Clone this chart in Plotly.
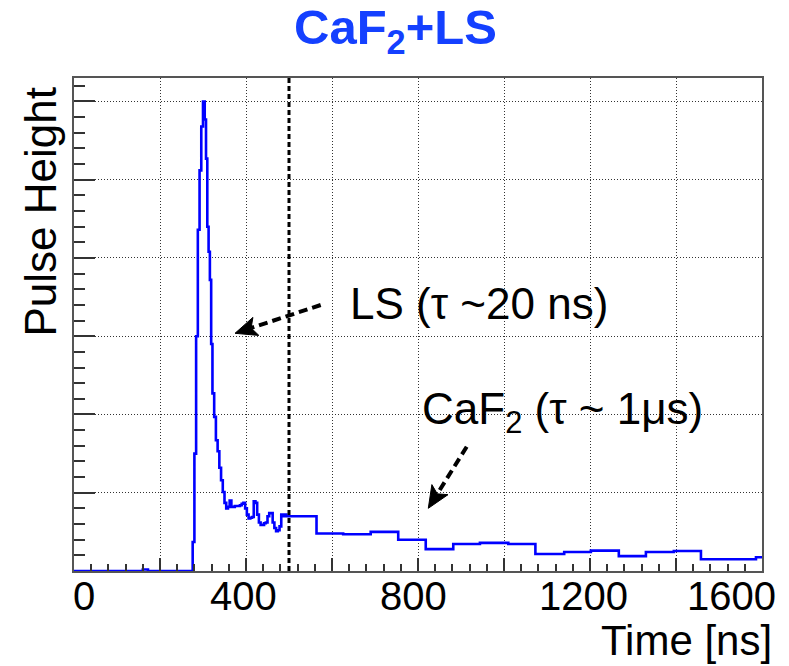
import plotly.graph_objects as go

# Fine-binned leading part of the pulse: bin start times [ns] and heights
fine_t = [0, 160, 172, 276, 280, 284, 288, 292, 296, 300, 304, 307, 310, 313, 316,
          319, 322, 326, 330, 334, 338, 342, 346, 350, 354, 358, 362, 366, 370,
          374, 378, 382, 386, 390, 394, 398, 402, 406, 410, 414, 418, 422, 426,
          430, 434, 438, 442, 446, 450, 454, 458, 462, 466, 470, 474, 478, 482,
          486, 490, 494]
fine_h = [0.0, 0.02, 0.0, 0.37, 1.5, 3.0, 4.36, 5.12, 5.68, 6.0, 5.77, 5.27, 4.40,
          4.08, 3.72, 2.9, 2.27, 1.97, 1.67, 1.53, 1.32, 1.16, 1.01, 0.87, 0.80,
          0.82, 0.90, 0.82, 0.82, 0.83, 0.83, 0.83, 0.84, 0.86, 0.87, 0.80, 0.72,
          0.67, 0.68, 0.69, 0.89, 0.87, 0.72, 0.62, 0.59, 0.59, 0.61, 0.62, 0.70,
          0.74, 0.74, 0.62, 0.55, 0.51, 0.52, 0.57, 0.72, 0.70, 0.72, 0.70]

# Coarse-binned tail: bin edges [ns] and heights
coarse_edges = [500, 564, 626, 690, 754, 818, 882, 944, 1010, 1073, 1140, 1202,
                1267, 1330, 1395, 1458, 1522, 1586, 1600]
coarse_h = [0.70, 0.48, 0.47, 0.50, 0.40, 0.28, 0.345, 0.36, 0.345, 0.217, 0.243,
            0.26, 0.19, 0.243, 0.256, 0.15, 0.15, 0.175]

x_tick_vals = [0, 400, 800, 1200, 1600]
x_tick_text = ["0", "400", "800", "1200", "1600"]

gate_time = 500  # boundary between fine and coarse binning
x_max = 1600
y_max = 6.3

# step outline: each level held from its bin start to the next start
xs = fine_t + coarse_edges[:-1] + [coarse_edges[-1]]
ys = fine_h + coarse_h + [coarse_h[-1]]

W, H = 789, 666
M_L, M_R, M_T, M_B = 74, 27, 78, 95
PX_PER_X = (W - M_L - M_R) / x_max
PX_PER_Y = (H - M_T - M_B) / y_max

FONT = "Liberation Sans, Arial, Helvetica, sans-serif"
AXIS_COL = "#555555"
GRID = dict(showgrid=True, gridcolor="#333333", gridwidth=1, griddash="1px,2px")


def to_data(px, py):
    """Page pixel -> data coordinates of the plotting area."""
    return (px - M_L) / PX_PER_X, (H - M_B - py) / PX_PER_Y


fig = go.Figure()
fig.add_trace(go.Scatter(x=xs, y=ys, mode="lines", line_shape="hv",
                         line=dict(color="#0000FF", width=2.6),
                         hoverinfo="skip", showlegend=False))

fig.update_layout(
    width=W, height=H,
    margin=dict(l=M_L, r=M_R, t=M_T, b=M_B),
    paper_bgcolor="white", plot_bgcolor="white",
    font=dict(family=FONT, color="black"),
    xaxis=dict(range=[0, x_max], dtick=200, tick0=0, showticklabels=False,
               ticks="inside", ticklen=13, tickwidth=1.5, tickcolor="#333333",
               minor=dict(dtick=40, ticks="inside", ticklen=7, tickwidth=1.5,
                          tickcolor="#333333", showgrid=False),
               showline=True, mirror=True, linecolor=AXIS_COL, linewidth=2,
               zeroline=False, **GRID),
    yaxis=dict(range=[0, y_max], dtick=1, tick0=0, showticklabels=False,
               ticks="inside", ticklen=21, tickwidth=1.5, tickcolor="#333333",
               minor=dict(dtick=0.2, ticks="inside", ticklen=11, tickwidth=1.5,
                          tickcolor="#333333", showgrid=False),
               showline=True, mirror=True, linecolor=AXIS_COL, linewidth=2,
               zeroline=False, **GRID),
)

# vertical dashed marker at the binning boundary
fig.add_shape(type="line", x0=gate_time, x1=gate_time, y0=0, y1=y_max,
              line=dict(color="black", width=3, dash="5px,3px"))

# dashed arrows (tail, tip) in page pixels, with notched filled heads
arrows = [((320.7, 305.0), (235.0, 333.3)),
          ((466.7, 446.7), (428.3, 508.3))]
HEAD_LEN, HEAD_HALF, NOTCH = 22.0, 9.5, 5.0
for (tx, ty), (hx, hy) in arrows:
    dx, dy = tx - hx, ty - hy
    n = (dx * dx + dy * dy) ** 0.5
    ux, uy = dx / n, dy / n          # along the shaft, tip -> tail
    vx, vy = -uy, ux                 # perpendicular
    base_x, base_y = hx + ux * (HEAD_LEN - NOTCH), hy + uy * (HEAD_LEN - NOTCH)
    x0, y0 = to_data(tx, ty)
    x1, y1 = to_data(base_x, base_y)
    fig.add_shape(type="line", x0=x0, y0=y0, x1=x1, y1=y1,
                  line=dict(color="black", width=4, dash="9px,5px"))
    pts = [(hx, hy),
           (hx + ux * HEAD_LEN + vx * HEAD_HALF, hy + uy * HEAD_LEN + vy * HEAD_HALF),
           (base_x, base_y),
           (hx + ux * HEAD_LEN - vx * HEAD_HALF, hy + uy * HEAD_LEN - vy * HEAD_HALF)]
    d = [to_data(px, py) for px, py in pts]
    path = "M " + " L ".join(f"{a:.3f},{b:.4f}" for a, b in d) + " Z"
    fig.add_shape(type="path", path=path, fillcolor="black",
                  line=dict(color="black", width=1))

fig.add_annotation(x=942, y=3.42, text="LS (τ ~20 ns)", showarrow=False,
                   font=dict(size=44, family=FONT), xanchor="center",
                   yanchor="middle")
fig.add_annotation(x=1137, y=2.03, text="CaF<sub>2</sub> (τ ~ 1μs)",
                   showarrow=False, font=dict(size=44, family=FONT),
                   xanchor="center", yanchor="middle")

# x tick labels
label_shift = [10, -3, -5, -7, -31]
for v, t, s in zip(x_tick_vals, x_tick_text, label_shift):
    fig.add_annotation(x=v, y=-0.05, xref="x", yref="paper", text=t,
                       showarrow=False, xshift=s, xanchor="center",
                       yanchor="middle", borderpad=0,
                       font=dict(size=40, family=FONT))

# axis titles
fig.add_annotation(x=1.016, y=-0.14, xref="paper", yref="paper",
                   text="Time [ns]", showarrow=False, xanchor="right",
                   yanchor="middle", borderpad=0,
                   font=dict(size=42, family=FONT))
fig.add_annotation(x=-0.048, y=0.729, xref="paper", yref="paper",
                   text="Pulse Height", showarrow=False, textangle=-90,
                   xanchor="center", yanchor="middle",
                   font=dict(size=44, family=FONT))

# title
fig.add_annotation(x=0.467, y=1.097, xref="paper", yref="paper",
                   text="<b>CaF<sub>2</sub>+LS</b>", showarrow=False,
                   xanchor="center", yanchor="middle",
                   font=dict(size=49, family=FONT, color="#1440FF"))

fig.write_html("out.html")
